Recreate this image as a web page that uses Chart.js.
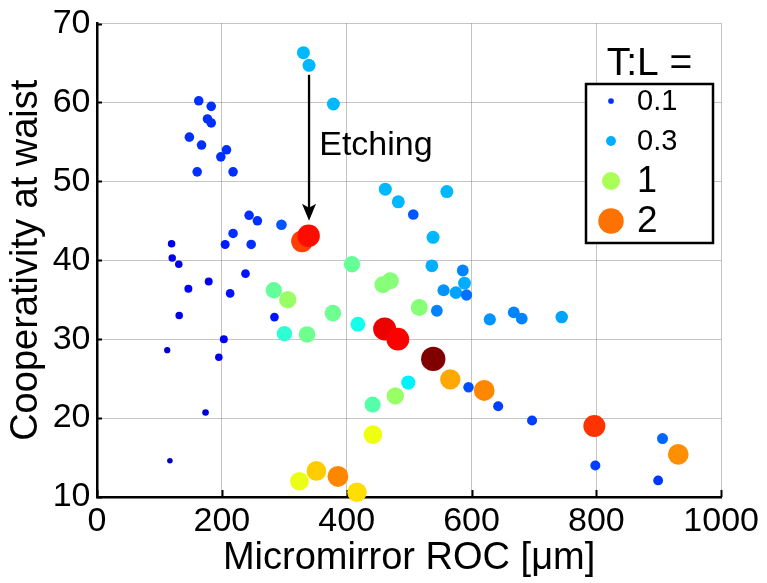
<!DOCTYPE html>
<html>
<head>
<meta charset="utf-8">
<script src="https://cdn.jsdelivr.net/npm/chart.js@4.4.1/dist/chart.umd.min.js"></script>
<style>
html, body { margin: 0; padding: 0; background: #fff; }
#wrap { width: 767px; height: 583px; }
</style>
</head>
<body>
<div id="wrap"><canvas id="chart" width="767" height="583"></canvas></div>
<script>
// T:L ~ 0.1
const tl01X = [163, 183, 177, 183, 148, 167.5, 207.5, 198.4, 160.5, 218, 243.7, 257, 295.5, 218, 205.3, 247,
    119.5, 120.5, 131, 237.9, 179, 146.4, 213.3, 131.7, 284.3, 203.2, 112.5, 195.2, 173.9, 116.8,
    506.7, 595.2, 642.7, 697, 798.4, 906, 899];
const tl01Y = [60.2, 59.5, 57.9, 57.4, 55.6, 54.6, 54.0, 53.1, 51.2, 51.2, 45.7, 45.0, 44.5, 43.4, 42.0, 42.0,
    42.1, 40.3, 39.5, 38.3, 37.3, 36.4, 35.8, 33.0, 32.8, 30.0, 28.6, 27.7, 20.7, 14.6,
    45.8, 23.9, 21.5, 19.7, 14.0, 17.4, 12.1];
const tl01Ratio = [0.1, 0.1, 0.1, 0.1, 0.1, 0.1, 0.1, 0.1, 0.1, 0.1, 0.1, 0.1, 0.15, 0.1, 0.08, 0.1,
    0.04, 0.04, 0.04, 0.07, 0.05, 0.05, 0.07, 0.04, 0.07, 0.05, 0.02, 0.04, 0.025, 0.013,
    0.15, 0.14, 0.12, 0.12, 0.12, 0.17, 0.11];

// T:L ~ 0.3
const tl03X = [330.7, 339.7, 378.7, 461.9, 482.7, 560.5, 538.4, 536.5, 586, 588.8, 555.2, 575, 592, 544.5,
    629.3, 667.7, 680.5, 744.5, 418, 498.7];
const tl03Y = [66.3, 64.7, 59.8, 49.0, 47.4, 48.7, 42.9, 39.3, 38.7, 37.1, 36.2, 35.9, 35.6, 33.6,
    32.5, 33.4, 32.6, 32.8, 31.9, 24.5];
const tl03Ratio = [0.32, 0.32, 0.32, 0.32, 0.32, 0.32, 0.32, 0.3, 0.22, 0.3, 0.25, 0.28, 0.19, 0.22,
    0.25, 0.22, 0.22, 0.28, 0.53, 0.45];

// T:L ~ 1
const tl1X = [283.2, 305.6, 378, 300.3, 336.5, 408.5, 458, 470, 516.3, 477.9, 441.6, 442.1, 324.3, 351.5, 416.5];
const tl1Y = [36.2, 35.0, 33.3, 30.7, 30.6, 39.5, 36.9, 37.4, 34.0, 22.8, 21.7, 17.9, 12.0, 13.3, 10.6];
const tl1Ratio = [0.77, 0.94, 0.8, 0.6, 0.8, 0.77, 0.88, 0.88, 0.88, 0.94, 0.72, 1.27, 1.25, 1.56, 1.48];

// T:L ~ 2
const tl2X = [386, 566, 620.3, 931.2, 796.8, 328.5, 339, 460.8, 482, 538.7];
const tl2Y = [12.6, 24.9, 23.5, 15.4, 19.0, 42.4, 43.1, 31.3, 30.0, 27.5];
const tl2Ratio = [1.89, 1.72, 1.89, 1.85, 2.33, 2.26, 2.55, 2.73, 2.62, 3.42];

const legendRatios = [0.1, 0.3, 1, 2];
const legendLabels = ["0.1", "0.3", "1", "2"];

const xTicks = [0, 200, 400, 600, 800, 1000];
const yTicks = [10, 20, 30, 40, 50, 60, 70];

// etching arrow, data coords
const arrowX = 339.7;
const arrowFromY = 63.5;
const arrowToY = 45.0;

const FONT = "'Liberation Sans', Arial, Helvetica, sans-serif";

function jet(t) {
    t = Math.min(1, Math.max(0, t));
    const c = v => Math.round(255 * Math.min(1, Math.max(0, v)));
    return "rgb(" + c(Math.min(4 * t - 1.5, -4 * t + 4.5)) + "," +
        c(Math.min(4 * t - 0.5, -4 * t + 3.5)) + "," +
        c(Math.min(4 * t + 0.5, -4 * t + 2.5)) + ")";
}

const colourOf = r => jet(Math.sqrt(r) / 1.85);
const radiusOf = r => 8.8 * Math.pow(r, 0.265);

function makeSet(xs, ys, ratios, order) {
    return {
        data: xs.map((x, i) => ({ x: x, y: ys[i] })),
        backgroundColor: ratios.map(colourOf),
        pointRadius: ratios.map(radiusOf),
        pointHoverRadius: ratios.map(radiusOf),
        borderWidth: 0,
        clip: false,
        order: order
    };
}

const extras = {
    id: "extras",
    beforeDatasetsDraw(chart) {
        const { ctx, chartArea, scales: { x, y } } = chart;
        ctx.save();
        ctx.strokeStyle = "#000";
        ctx.lineWidth = 2;
        ctx.beginPath();
        xTicks.forEach(v => {
            const px = Math.round(x.getPixelForValue(v)) + 0.5;
            ctx.moveTo(px, chartArea.bottom);
            ctx.lineTo(px, chartArea.bottom - 7);
        });
        yTicks.forEach(v => {
            const py = Math.round(y.getPixelForValue(v)) + 0.5;
            ctx.moveTo(chartArea.left, py);
            ctx.lineTo(chartArea.left + 5, py);
        });
        ctx.stroke();
        ctx.restore();
    },
    afterDraw(chart) {
        const { ctx, scales: { x, y } } = chart;
        ctx.save();

        // arrow
        const ax = x.getPixelForValue(arrowX);
        const ay0 = y.getPixelForValue(arrowFromY);
        const ay1 = y.getPixelForValue(arrowToY);
        ctx.strokeStyle = "#000";
        ctx.fillStyle = "#000";
        ctx.lineWidth = 2.3;
        ctx.beginPath();
        ctx.moveTo(ax, ay0);
        ctx.lineTo(ax, ay1 - 12);
        ctx.stroke();
        ctx.beginPath();
        ctx.moveTo(ax, ay1);
        ctx.lineTo(ax - 7, ay1 - 17);
        ctx.lineTo(ax, ay1 - 13);
        ctx.lineTo(ax + 7, ay1 - 17);
        ctx.closePath();
        ctx.fill();

        ctx.font = "34px " + FONT;
        ctx.textAlign = "left";
        ctx.textBaseline = "alphabetic";
        ctx.fillText("Etching", x.getPixelForValue(356), y.getPixelForValue(53.3));

        // legend
        const box = { left: 586, top: 84, width: 127, height: 159 };
        ctx.fillStyle = "#fff";
        ctx.fillRect(box.left, box.top, box.width, box.height);
        ctx.lineWidth = 2.5;
        ctx.strokeStyle = "#000";
        ctx.strokeRect(box.left, box.top, box.width, box.height);

        ctx.fillStyle = "#000";
        ctx.font = "39px " + FONT;
        ctx.textAlign = "center";
        ctx.fillText("T:L =", box.left + box.width / 2, 75);

        const rows = [101, 141, 181, 221];
        const sizes = [29, 29, 36, 37];
        legendRatios.forEach((r, i) => {
            ctx.fillStyle = colourOf(r);
            ctx.beginPath();
            ctx.arc(611, rows[i], 9 * Math.sqrt(r), 0, Math.PI * 2);
            ctx.fill();
            ctx.fillStyle = "#000";
            ctx.font = sizes[i] + "px " + FONT;
            ctx.textAlign = "left";
            ctx.textBaseline = "middle";
            ctx.fillText(legendLabels[i], 637, rows[i] + 1);
        });

        ctx.restore();
    }
};

new Chart(document.getElementById("chart"), {
    type: "scatter",
    data: {
        datasets: [
            makeSet(tl01X, tl01Y, tl01Ratio, 4),
            makeSet(tl03X, tl03Y, tl03Ratio, 3),
            makeSet(tl1X, tl1Y, tl1Ratio, 2),
            makeSet(tl2X, tl2Y, tl2Ratio, 1)
        ]
    },
    options: {
        responsive: false,
        animation: false,
        devicePixelRatio: 1,
        layout: { padding: { left: 0, right: 44, top: 21, bottom: 0 } },
        plugins: {
            legend: { display: false },
            tooltip: { enabled: false }
        },
        scales: {
            x: {
                type: "linear",
                min: 0,
                max: 1000,
                afterBuildTicks: s => { s.ticks = xTicks.map(v => ({ value: v })); },
                afterFit: s => { s.height = 86; },
                grid: { color: "#8a8a8a", lineWidth: 1, drawTicks: false },
                border: { display: true, color: "#000", width: 2.5, dash: [1, 1] },
                ticks: {
                    color: "#000",
                    padding: 8,
                    autoSkip: false,
                    maxRotation: 0,
                    callback: v => String(v),
                    font: { family: FONT, size: 34, lineHeight: 1 }
                },
                title: {
                    display: true,
                    text: "Micromirror ROC [μm]",
                    color: "#000",
                    font: { family: FONT, size: 38, lineHeight: 1 },
                    padding: { top: 0, bottom: 5 }
                }
            },
            y: {
                type: "linear",
                min: 10,
                max: 70,
                afterBuildTicks: s => { s.ticks = yTicks.map(v => ({ value: v })); },
                afterFit: s => { s.width = 97; },
                grid: { color: "#8a8a8a", lineWidth: 1, drawTicks: false },
                border: { display: true, color: "#000", width: 2.5, dash: [1, 1] },
                ticks: {
                    color: "#000",
                    padding: 6.5,
                    callback: v => String(v),
                    font: { family: FONT, size: 34, lineHeight: 1 }
                },
                title: {
                    display: true,
                    text: "Cooperativity at waist",
                    color: "#000",
                    font: { family: FONT, size: 38, lineHeight: 1 },
                    padding: { top: 8, bottom: 0 }
                }
            }
        }
    },
    plugins: [extras]
});
</script>
</body>
</html>
